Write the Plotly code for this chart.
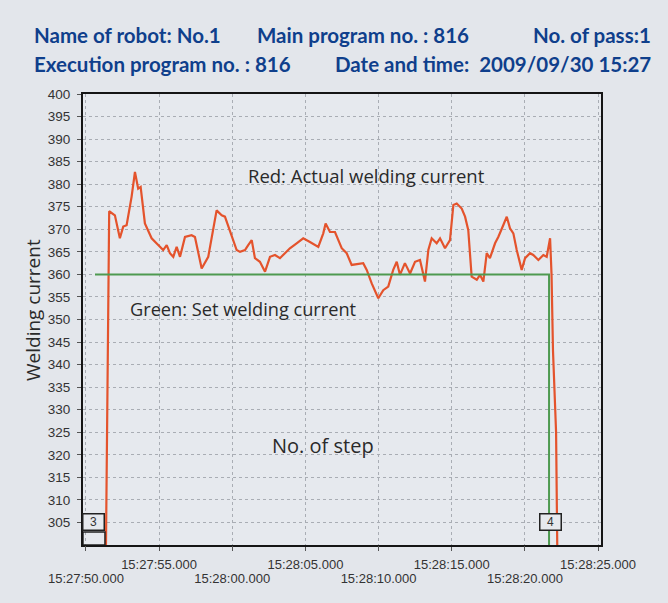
import plotly.graph_objects as go

# ---------------- data ----------------
# seconds after 15:27:50.000
actual_time_s = [1.37, 1.45, 1.59, 1.98, 2.32, 2.55, 2.78, 3.12, 3.35, 3.57, 3.74, 4.03, 4.49, 4.94,
                 5.28, 5.52, 5.74, 5.97, 6.20, 6.43, 6.77, 7.22, 7.45, 7.91, 8.36, 8.93, 9.28, 9.50,
                 9.84, 10.30, 10.53, 10.87, 11.09, 11.33, 11.55, 11.89, 12.24, 12.58, 12.92, 13.26,
                 13.60, 13.94, 14.40, 14.85, 15.31, 15.88, 16.22, 16.38, 16.68, 17.02, 17.48, 17.82,
                 18.16, 18.95, 19.19, 19.53, 19.98, 20.32, 20.66, 21.00, 21.24, 21.46, 21.80, 22.15,
                 22.49, 22.83, 23.17, 23.40, 23.63, 23.97, 24.20, 24.54, 24.88, 25.11, 25.34, 25.68,
                 25.91, 26.13, 26.36, 26.71, 26.93, 27.16, 27.39, 27.61, 27.96, 28.18, 28.52, 28.76,
                 28.98, 29.21, 29.44, 29.78, 30.01, 30.35, 30.57, 30.92, 31.26, 31.49, 31.72, 31.76,
                 31.82, 31.92, 32.13, 32.21]
actual_current = [300, 335, 374.0, 373.1, 368.0, 370.6, 370.9, 377.2, 382.7, 379.0, 379.4, 371.3, 368.0, 366.5,
                  365.4, 366.5, 364.7, 363.9, 366.1, 363.9, 368.3, 368.7, 368.3, 361.3, 363.9, 374.2, 373.1, 372.8,
                  369.8, 365.4, 365.0, 365.4, 366.5, 367.6, 363.6, 362.8, 360.6, 363.9, 364.3, 363.6,
                  364.7, 365.8, 366.9, 368.0, 367.2, 366.1, 369.1, 371.3, 369.4, 369.4, 365.8, 364.7,
                  362.1, 362.5, 361.0, 358.0, 354.7, 356.5, 357.3, 361.0, 362.8, 359.9, 362.5, 360.2,
                  362.8, 363.2, 358.4, 365.4, 368.0, 366.9, 368.0, 365.8, 367.6, 375.4, 375.7, 374.6,
                  372.8, 369.8, 359.5, 358.8, 359.9, 358.4, 364.7, 363.6, 366.9, 368.3, 370.9, 372.8,
                  370.2, 369.1, 365.4, 361.0, 363.6, 364.7, 364.3, 363.2, 364.3, 363.9, 368.0, 363.9,
                  360, 343, 325, 300]

set_time_s = [0.62, 31.65, 31.65]
set_current = [360, 360, 298]

step_labels = ["3", "4"]
step_time_s = [0.55, 31.78]
step_level = [305, 305]

y_tick_values = list(range(305, 401, 5))
x_tick_values = [0, 5, 10, 15, 20, 25, 30, 35]
x_tick_labels = ["15:27:50.000", "15:27:55.000", "15:28:00.000", "15:28:05.000",
                 "15:28:10.000", "15:28:15.000", "15:28:20.000", "15:28:25.000"]

header_line1 = ["Name of robot: No.1", "Main program no. : 816", "No. of pass:1"]
header_line2 = ["Execution program no. : 816", "Date and time:  2009/09/30 15:27"]

# ---------------- figure ----------------
PAPER = "#e3e6eb"
PLOT = "#e6e9ee"
NAVY = "#0f3f8c"
TXT = "#2a2a2a"

fig = go.Figure()
fig.add_trace(go.Scatter(x=set_time_s, y=set_current, mode="lines", xaxis="x2", yaxis="y",
                         line=dict(color="#4e9a50", width=2), hoverinfo="skip"))
fig.add_trace(go.Scatter(x=actual_time_s, y=actual_current, mode="lines",
                         line=dict(color="#e4532c", width=2.2), hoverinfo="skip"))

lower_vals = [v for i, v in enumerate(x_tick_values) if i % 2 == 0]
lower_text = [t for i, t in enumerate(x_tick_labels) if i % 2 == 0]

tick_font = dict(family="Liberation Sans, Arial", size=13, color="#333333")
grid_kw = dict(showgrid=True, gridcolor="#a9adb4", gridwidth=1, griddash="3px,3px")

fig.update_layout(
    xaxis=dict(range=[-0.2, 35.2], tickvals=x_tick_values,
               ticktext=["" if i % 2 == 0 else t for i, t in enumerate(x_tick_labels)],
               ticks="outside", ticklen=4, tickcolor="#555", ticklabelstandoff=2,
               showline=True, linecolor="#151515", linewidth=2, mirror=True,
               zeroline=False, tickfont=tick_font, **grid_kw),
    xaxis2=dict(overlaying="x", matches="x", anchor="y", side="bottom",
                tickvals=lower_vals, ticktext=lower_text,
                ticks="outside", ticklen=4, tickcolor="#555", ticklabelstandoff=17,
                showline=False, showgrid=False, zeroline=False, tickfont=tick_font),
    yaxis=dict(range=[300, 400], tickvals=y_tick_values,
               ticks="outside", ticklen=4, tickcolor="#555", ticklabelstandoff=4,
               showline=True, linecolor="#151515", linewidth=2, mirror=True,
               zeroline=False, tickfont=dict(family="Liberation Sans, Arial", size=13.5, color="#333333"),
               **grid_kw),
)

annotations = []
hdr_font = dict(family="Lato, Noto Sans, sans-serif", size=20.5, color=NAVY, weight=700)
W, H = 668, 603
ml, mr, mt, mb = 83, 67, 94, 58
pw, ph = W - ml - mr, H - mt - mb
def px_x(x):
    return (x - ml) / pw
def px_y(y):
    return (H - mb - y) / ph

annotations.append(dict(text=header_line1[0], x=px_x(32), y=px_y(34.5), xref="paper", yref="paper",
                        xanchor="left", yanchor="middle", showarrow=False, font=hdr_font))
annotations.append(dict(text=header_line1[1], x=px_x(255), y=px_y(34.5), xref="paper", yref="paper",
                        xanchor="left", yanchor="middle", showarrow=False, font=hdr_font))
annotations.append(dict(text=header_line1[2], x=px_x(653), y=px_y(34.5), xref="paper", yref="paper",
                        xanchor="right", yanchor="middle", showarrow=False, font=hdr_font))
annotations.append(dict(text=header_line2[0], x=px_x(32), y=px_y(63.5), xref="paper", yref="paper",
                        xanchor="left", yanchor="middle", showarrow=False, font=hdr_font))
annotations.append(dict(text=header_line2[1], x=px_x(653), y=px_y(63.5), xref="paper", yref="paper",
                        xanchor="right", yanchor="middle", showarrow=False, font=hdr_font))

annotations.append(dict(text="Red: Actual welding current", x=19.14, y=382.0, xref="x", yref="y",
                        showarrow=False, font=dict(family="Open Sans, Noto Sans, sans-serif", size=18.5, color=TXT)))
annotations.append(dict(text="Green: Set welding current", x=10.8, y=352.3, xref="x", yref="y",
                        showarrow=False, font=dict(family="Open Sans, Noto Sans, sans-serif", size=18.2, color=TXT)))
annotations.append(dict(text="No. of step", x=16.2, y=322.0, xref="x", yref="y",
                        showarrow=False, font=dict(family="Open Sans, Noto Sans, sans-serif", size=20, color=TXT)))
annotations.append(dict(text="Welding current", x=px_x(18), y=px_y(310), xref="paper", yref="paper",
                        textangle=-90, showarrow=False,
                        font=dict(family="Open Sans, Noto Sans, sans-serif", size=19, color=TXT)))

shapes = []
for lab, t, lv in zip(step_labels, step_time_s, step_level):
    annotations.append(dict(text=lab, x=t, y=lv, xref="x", yref="y", showarrow=False,
                            width=18, height=13, borderpad=1, bordercolor="#222", borderwidth=1.5,
                            bgcolor=PLOT, font=dict(family="Liberation Sans, Arial", size=12, color="#333")))
shapes.append(dict(type="rect", xref="x", yref="y", xsizemode="pixel", ysizemode="pixel",
                   xanchor=step_time_s[0], yanchor=300, x0=-11, x1=11, y0=0, y1=13,
                   line=dict(color="#222", width=1.5)))

fig.update_layout(width=W, height=H, margin=dict(l=ml, r=mr, t=mt, b=mb),
                  paper_bgcolor=PAPER, plot_bgcolor=PLOT, showlegend=False,
                  annotations=annotations, shapes=shapes)

fig.write_html("out.html", config={"displayModeBar": False},
               post_script="document.body.style.margin='0';document.body.style.background='%s';"
                           "document.documentElement.style.overflow='hidden';" % PAPER)
